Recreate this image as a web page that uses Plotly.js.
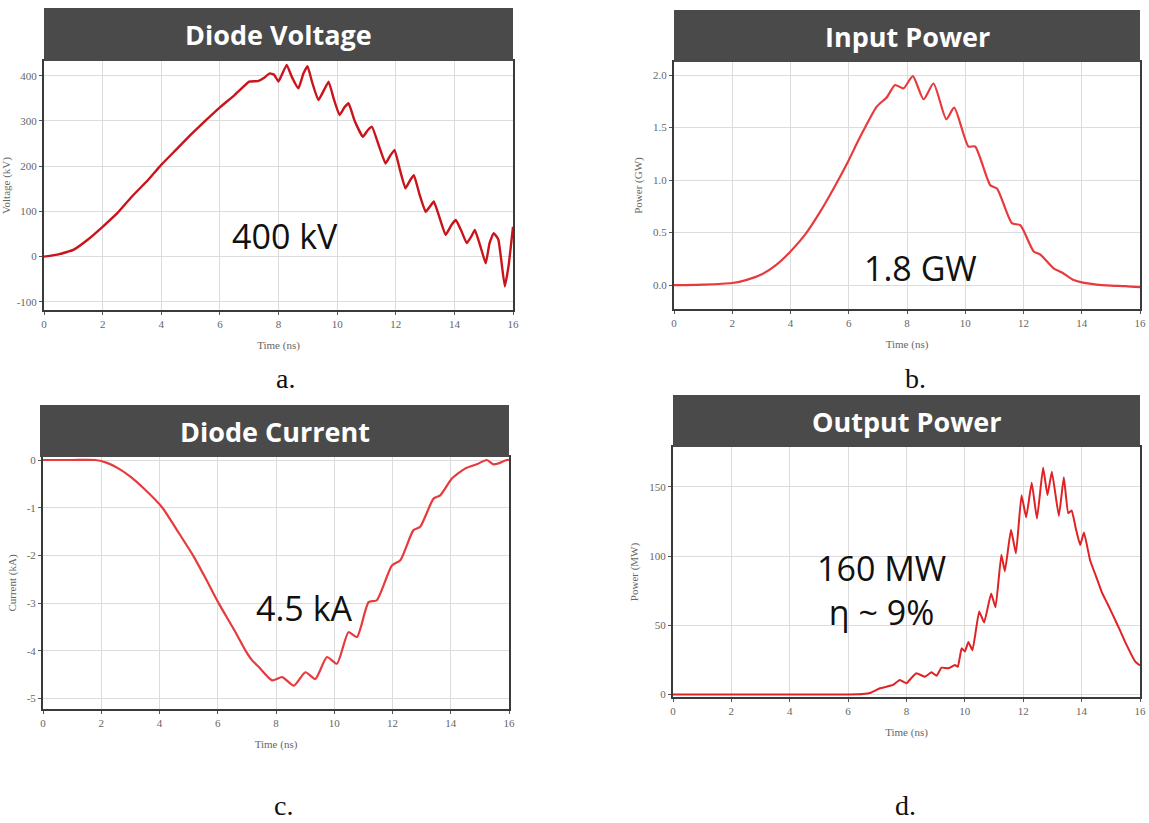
<!DOCTYPE html>
<html><head><meta charset="utf-8">
<script src="https://cdn.plot.ly/plotly-3.0.1.min.js"></script>
<style>html,body{margin:0;padding:0;background:#fff}#chart{width:1149px;height:823px}</style>
</head><body><div id="chart"></div>
<script>
// ---- data ----
const panelTitles = ["Diode Voltage", "Input Power", "Diode Current", "Output Power"];
const panelLetters = ["a.", "b.", "c.", "d."];
const xTitle = "Time (ns)";
const yTitles = ["Voltage (kV)", "Power (GW)", "Current (kA)", "Power (MW)"];
const callouts = ["400 kV", "1.8 GW", "4.5 kA", "160 MW<br>η ~ 9%"];

const timeTicks = [0, 2, 4, 6, 8, 10, 12, 14, 16];

const tVoltage = [0,0.5,1,1.5,2,2.5,3,3.5,4,4.5,5,5.5,6,6.5,7,7.3,7.5,7.7,7.85,8.0,8.1,8.28,8.45,8.68,8.85,8.99,9.15,9.36,9.55,9.71,9.88,10.08,10.25,10.39,10.6,10.88,11.05,11.19,11.4,11.65,11.8,11.96,12.15,12.33,12.5,12.62,12.8,13.02,13.18,13.3,13.5,13.7,13.9,14.05,14.25,14.42,14.58,14.7,14.9,15.07,15.2,15.34,15.5,15.72,15.85,16.0];
const voltage = [0,5,15,38,66,96,133,166,203,236,269,300,330,357,387,388,395,405,402,387,400,424,398,372,405,421,385,346,368,387,350,313,330,339,300,265,280,287,250,206,222,236,190,151,170,180,140,99,112,122,85,48,70,81,55,30,45,59,20,-15,30,52,38,-66,-20,66];
const voltageTicks = [-100, 0, 100, 200, 300, 400];
const voltageTickText = ["-100", "0", "100", "200", "300", "400"];

const tInput = [0,1,2,2.5,3,3.5,4,4.5,5,5.5,6,6.28,6.5,6.96,7.31,7.59,7.88,8.2,8.57,8.91,9.35,9.62,10.11,10.34,10.86,11.09,11.6,11.89,12.35,12.58,13.03,13.32,13.7,14,14.5,15,15.5,16];
const inputPower = [0,0.005,0.02,0.05,0.1,0.19,0.32,0.48,0.69,0.93,1.19,1.35,1.47,1.70,1.79,1.906,1.874,1.99,1.77,1.92,1.58,1.69,1.32,1.32,0.95,0.92,0.59,0.57,0.32,0.29,0.16,0.12,0.05,0.025,0.005,-0.005,-0.01,-0.02];
const inputTicks = [0, 0.5, 1, 1.5, 2];
const inputTickText = ["0.0", "0.5", "1.0", "1.5", "2.0"];

const tCurrent = [0,1,1.8,2.2,2.6,3.0,3.5,4.1,4.6,5.15,5.6,6.03,6.6,6.96,7.18,7.41,7.87,8.21,8.61,9.01,9.35,9.75,10.09,10.49,10.78,11.18,11.46,11.98,12.27,12.72,12.95,13.41,13.64,14.04,14.49,14.89,15.24,15.46,15.64,15.92,16];
const current = [0,0,0,-0.06,-0.18,-0.35,-0.62,-1.0,-1.47,-2.0,-2.5,-3.0,-3.6,-4.0,-4.2,-4.34,-4.62,-4.55,-4.73,-4.45,-4.59,-4.13,-4.27,-3.61,-3.71,-2.98,-2.94,-2.21,-2.1,-1.47,-1.4,-0.81,-0.74,-0.39,-0.18,-0.09,0.0,-0.09,-0.07,0.0,0];
const currentTicks = [-5, -4, -3, -2, -1, 0];
const currentTickText = ["-5", "-4", "-3", "-2", "-1", "0"];

const tOutput = [0,2,4,6,6.5,6.8,7.09,7.3,7.54,7.77,8.0,8.17,8.34,8.63,8.86,9.03,9.2,9.43,9.66,9.76,9.89,10.0,10.12,10.26,10.49,10.66,10.9,11.05,11.25,11.37,11.58,11.75,11.94,12.1,12.29,12.47,12.68,12.83,12.98,13.22,13.39,13.54,13.66,13.8,13.95,14.08,14.29,14.5,14.69,14.9,15.08,15.3,15.49,15.7,15.83,16];
const outputPower = [0,0,0,0,0.3,1.5,4.5,5.5,6.9,10.5,8.1,12,15.3,12.9,16.0,13.6,19.4,18.9,21.3,20,33.4,31,38,32,60,52,73,63,101,89,119,102,144,128,153,127,164,144,161,129,157,131,133,120,108,117,97,85,74,65,57,47,38,29,24,21];
const outputTicks = [0, 50, 100, 150];

// ---- layout geometry (pixels in a 1149 x 823 page) ----
const W = 1149, H = 823;
const fx = p => p / W;
const fy = p => 1 - p / H;

const panels = [
  {plot:[44,513,61,310],  bar:[44,513,8,61],    yr:[-118,432.5], yt:voltageTicks, ytt:voltageTickText,
   callout:[285,236], letter:[285,378]},
  {plot:[674,1140,62,309], bar:[674,1140,10,62], yr:[-0.228,2.125], yt:inputTicks, ytt:inputTickText,
   callout:[920,268], letter:[915,378]},
  {plot:[43,509,457,709], bar:[40,509,405,457], yr:[-5.22,0.063], yt:currentTicks, ytt:currentTickText,
   callout:[304,608], letter:[283,805]},
  {plot:[673,1140,447,697], bar:[673,1140,395,447], yr:[-1.8,178.8], yt:outputTicks, ytt:outputTicks.map(String),
   callout:[882,590], letter:[905,805]}
];

const xs = [tVoltage, tInput, tCurrent, tOutput];
const ys = [voltage, inputPower, current, outputPower];
const lineColors = ['#c8141a', '#e83a3c', '#e83a3c', '#e02224'];
const lineWidths = [2.4, 2.2, 2.2, 2.0];
const smooth = [0.35, 0.6, 0.6, 0.35];

const tickFont = {family: 'Liberation Serif, serif', size: 11, color: '#666'};
const titleFont = {family: 'Liberation Serif, serif', size: 11, color: '#666'};

const traces = [];
const layout = {
  width: W, height: H, margin: {l:0, r:0, t:0, b:0},
  paper_bgcolor: '#fff', plot_bgcolor: '#fff', showlegend: false,
  shapes: [], annotations: []
};

panels.forEach((p, i) => {
  const n = i + 1;
  const xa = 'xaxis' + (n === 1 ? '' : n), ya = 'yaxis' + (n === 1 ? '' : n);
  const xr = 'x' + (n === 1 ? '' : n), yr = 'y' + (n === 1 ? '' : n);
  traces.push({
    x: xs[i], y: ys[i], xaxis: xr, yaxis: yr, type: 'scatter', mode: 'lines',
    line: {color: lineColors[i], width: lineWidths[i], shape: 'spline', smoothing: smooth[i]},
    hoverinfo: 'skip'
  });
  layout[xa] = {
    domain: [fx(p.plot[0]), fx(p.plot[1])], anchor: yr, range: [0, 16],
    tickvals: timeTicks, ticktext: timeTicks.map(String),
    showgrid: true, gridcolor: '#dcdcdc', gridwidth: 1, zeroline: false,
    showline: true, linecolor: '#3a3a3a', linewidth: 2, mirror: true,
    ticks: 'outside', ticklen: 3, tickcolor: '#555', tickfont: tickFont,
    title: {text: xTitle, font: titleFont, standoff: 12}, automargin: false, fixedrange: true
  };
  layout[ya] = {
    domain: [fy(p.plot[3]), fy(p.plot[2])], anchor: xr, range: p.yr,
    tickvals: p.yt, ticktext: p.ytt,
    showgrid: true, gridcolor: '#dcdcdc', gridwidth: 1, zeroline: false,
    showline: true, linecolor: '#3a3a3a', linewidth: 2, mirror: true,
    ticks: 'outside', ticklen: 3, tickcolor: '#555', tickfont: tickFont,
    title: {text: yTitles[i], font: titleFont, standoff: 8}, automargin: false, fixedrange: true
  };
  layout.shapes.push({
    type: 'rect', xref: 'paper', yref: 'paper', layer: 'above',
    x0: fx(p.bar[0]), x1: fx(p.bar[1]), y0: fy(p.bar[3]), y1: fy(p.bar[2]),
    fillcolor: '#4a4a4a', line: {width: 0}
  });
  layout.annotations.push({
    xref: 'paper', yref: 'paper', x: fx((p.bar[0] + p.bar[1]) / 2), y: fy((p.bar[2] + p.bar[3]) / 2),
    text: '<b>' + panelTitles[i] + '</b>', showarrow: false, xanchor: 'center', yanchor: 'middle',
    font: {family: 'Open Sans, sans-serif', size: 27, color: '#ffffff'}
  });
  layout.annotations.push({
    xref: 'paper', yref: 'paper', x: fx(p.callout[0]), y: fy(p.callout[1]),
    text: callouts[i], showarrow: false, xanchor: 'center', yanchor: 'middle',
    font: {family: 'Open Sans, sans-serif', size: 34, color: '#111'}
  });
  layout.annotations.push({
    xref: 'paper', yref: 'paper', x: fx(p.letter[0]), y: fy(p.letter[1]),
    text: panelLetters[i], showarrow: false, xanchor: 'center', yanchor: 'middle',
    font: {family: 'Liberation Serif, serif', size: 28, color: '#111'}
  });
});

Plotly.newPlot('chart', traces, layout, {displayModeBar: false, staticPlot: true});
</script></body></html>
